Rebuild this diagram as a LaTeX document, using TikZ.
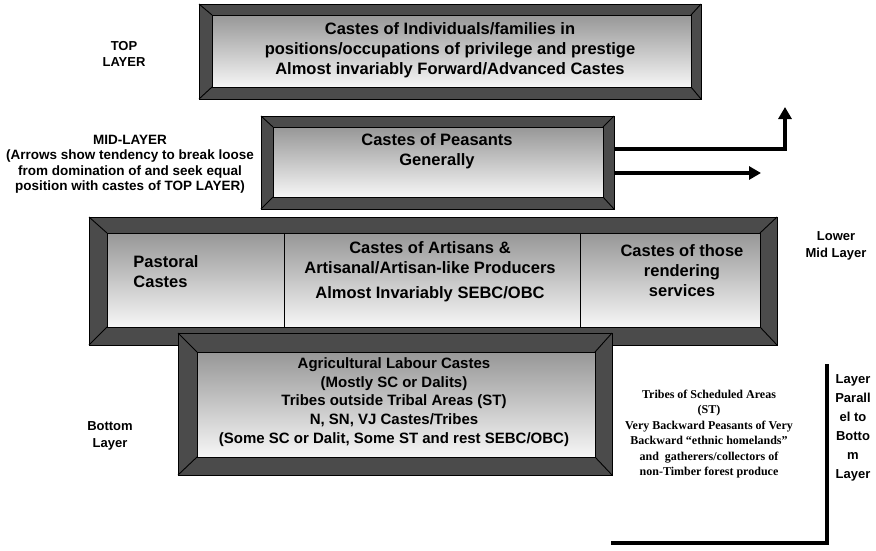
\documentclass[tikz,border=0pt]{standalone}
\usepackage{fontspec}
\setmainfont{Liberation Sans}
\newfontfamily\timesb{Liberation Serif}
\usetikzlibrary{arrows.meta,fit}
\definecolor{bevcol}{HTML}{4B4B4B}
\definecolor{facetop}{HTML}{979797}
\definecolor{facebot}{HTML}{F6F6F6}
\tikzset{
  bevel/.style={fill=bevcol},
  face/.style={top color=facetop, bottom color=facebot},
  edge/.style={draw=black, line width=0.9pt},
  big/.style={font=\fontsize{16.5}{20}\selectfont\bfseries, align=center, inner sep=0pt},
  mid/.style={font=\fontsize{15}{18.75}\selectfont\bfseries, align=center, inner sep=0pt},
  lbl/.style={font=\fontsize{13}{16.5}\selectfont\bfseries, align=center, inner sep=0pt},
  sertext/.style={font=\fontsize{12}{15.4}\selectfont\timesb\bfseries, align=center, inner sep=0pt},
  flow/.style={line width=4.3pt, -{Triangle[width=13pt,length=12pt]}},
  bracketline/.style={line width=3.5pt},
}
% #1 name, #2 #3 outer top-left, #4 #5 outer bottom-right, #6..#9 bevel widths l t r b
\newcommand\bevbox[9]{%
  \fill[bevel] (#2,#3) rectangle (#4,#5);
  \shade[face] ({#2+#6},{#3+#7}) rectangle ({#4-#8},{#5-#9});
  \draw[edge] (#2,#3) rectangle (#4,#5);
  \draw[edge] ({#2+#6},{#3+#7}) rectangle ({#4-#8},{#5-#9});
  \draw[edge] (#2,#3) -- ({#2+#6},{#3+#7});
  \draw[edge] (#4,#3) -- ({#4-#8},{#3+#7});
  \draw[edge] (#2,#5) -- ({#2+#6},{#5-#9});
  \draw[edge] (#4,#5) -- ({#4-#8},{#5-#9});
  \coordinate (#1-nw) at (#2,#3);
  \coordinate (#1-se) at (#4,#5);
  \node[fit=(#1-nw)(#1-se), inner sep=0pt] (#1) {};
}
\begin{document}
\begin{tikzpicture}[x=1pt,y=-1pt]
\useasboundingbox[fill=white] (0,0) rectangle (876,550);

% top box
\bevbox{top}{199}{4}{701}{99}{13}{11}{10}{12}
\node[big] (toptext) at (450,50) {Castes of Individuals/families in\\positions/occupations of privilege and prestige\\Almost invariably Forward/Advanced Castes};

% peasants box
\bevbox{peas}{261}{116}{614}{209}{12}{11}{11}{12}
\node[big] (peastext) at (437,151) {Castes of Peasants\\Generally};

% arrows
\coordinate (upTip) at (785,107);
\coordinate (loTip) at (761,173);
\draw[flow] ([yshift=13.5pt]peas.east) -| (upTip);
\draw[flow] ([yshift=-10.5pt]peas.east) -- (loTip);

% lower mid box
\bevbox{lowmid}{89}{217}{777}{345}{18}{16}{17}{18}
\draw[edge] (284,233) -- (284,327);
\draw[edge] (580,233) -- (580,327);
\node[big, align=left] (pastoral) at (166,272) {Pastoral\\Castes};
\node[big] (artisans) at (430,272) {Castes of Artisans \&\\Artisanal/Artisan-like Producers\\[5pt]Almost Invariably SEBC/OBC};
\node[big] (services) at (682,271) {Castes of those\\rendering\\services};

% bottom box
\bevbox{bot}{178}{333}{612}{475}{19}{19}{17}{18}
\node[mid] (bottext) at (394,402) {Agricultural Labour Castes\\(Mostly SC or Dalits)\\Tribes outside Tribal Areas (ST)\\N, SN, VJ Castes/Tribes\\(Some SC or Dalit, Some ST and rest SEBC/OBC)};

% bracket
\coordinate (bkTop) at (827,364);
\coordinate (bkCorner) at (827,543);
\coordinate (bkEnd) at (611,543);
\draw[bracketline] (bkTop) -- (bkCorner) -- (bkEnd);

% side labels
\node[lbl] (toplbl) at (124,54) {TOP\\LAYER};
\node[font=\fontsize{13.5}{15.5}\selectfont\bfseries, align=center, inner sep=0pt] (midlbl) at (130,164) {MID-LAYER\\(Arrows show tendency to break loose\\from domination of and seek equal\\position with castes of TOP LAYER)};
\node[lbl] (lowlbl) at (836,246) {Lower\\Mid Layer};
\node[lbl] (botlbl) at (110,436) {Bottom\\Layer};
\node[sertext] (tribes) at (709,434) {Tribes of Scheduled Areas\\(ST)\\Very Backward Peasants of Very\\Backward “ethnic homelands”\\and~ gatherers/collectors of\\non-Timber forest produce};
\node[font=\fontsize{13}{19}\selectfont\bfseries, align=center, inner sep=0pt] (parlbl) at (853,428) {Layer\\Parall\\el to\\Botto\\m\\Layer};
\end{tikzpicture}
\end{document}
